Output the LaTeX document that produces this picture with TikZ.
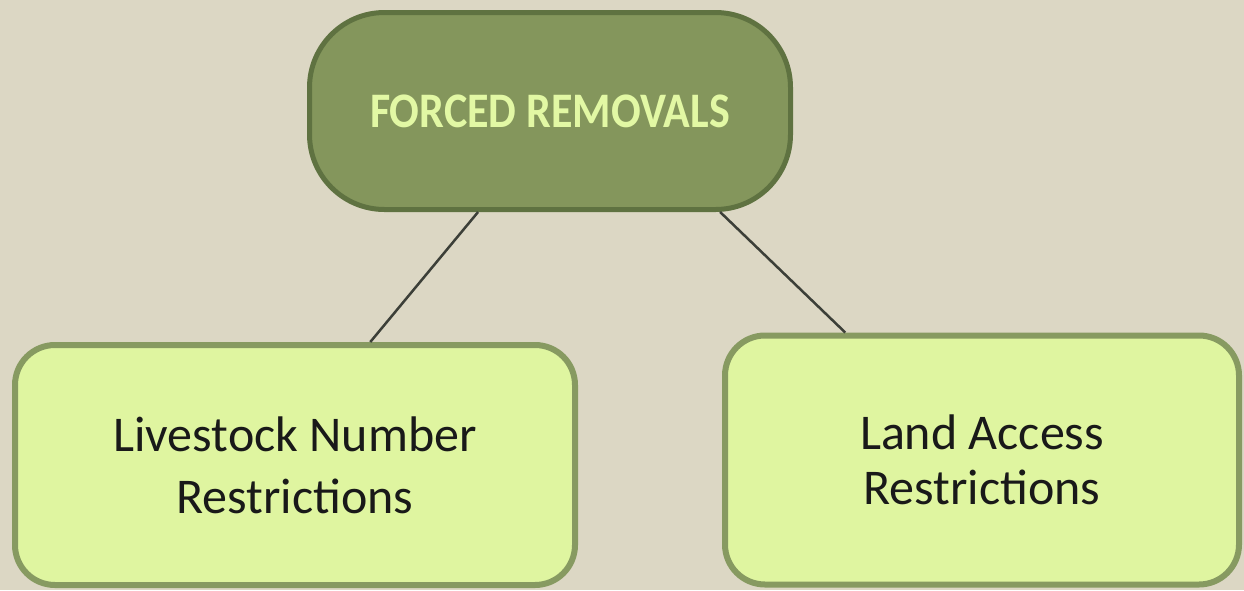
\documentclass[tikz,border=0pt]{standalone}
\usepackage{fontspec}
\setmainfont{Carlito}
\usetikzlibrary{calc}
\definecolor{bg}{HTML}{DCD7C4}
\definecolor{topfill}{HTML}{84965C}
\definecolor{topdraw}{HTML}{5F7241}
\definecolor{toptext}{HTML}{E2F8A4}
\definecolor{boxfill}{HTML}{DFF5A0}
\definecolor{boxdraw}{HTML}{879A61}
\definecolor{linkc}{HTML}{3C3F38}
\tikzset{
  headbox/.style={draw=topdraw, fill=topfill, line width=5pt, rounded corners=75pt,
    minimum width=481pt, minimum height=197pt, inner sep=0pt,
    font=\fontsize{44}{50}\selectfont\bfseries, text=toptext},
  subbox/.style={draw=boxdraw, fill=boxfill, line width=6pt, rounded corners=40pt,
    inner sep=0pt, align=center, text=black!90},
  link/.style={draw=linkc, line width=2.5pt}
}
\begin{document}
\begin{tikzpicture}[x=1pt,y=-1pt]
\fill[bg] (0,0) rectangle (1244,590);
\useasboundingbox (0,0) rectangle (1244,590);
\node[headbox] (top) at (550,111) {\scalebox{1}[1.13]{FORCED REMOVALS}};
\node[subbox, font=\fontsize{50}{62}\selectfont, minimum width=560pt, minimum height=240pt] (left) at (295,465) {Livestock Number\\Restrictions};
\node[subbox, font=\fontsize{50}{55}\selectfont, minimum width=514pt, minimum height=249pt] (right) at (982,460) {Land Access\\Restrictions};
\coordinate (tl) at ($(top.south west)!0.352!(top.south east)$);
\coordinate (tr) at ($(top.south west)!0.85!(top.south east)$);
\coordinate (lt) at ($(left.north west)!0.633!(left.north east)$);
\coordinate (rt) at ($(right.north west)!0.237!(right.north east)$);
\draw[link] (tl) -- (lt);
\draw[link] (tr) -- (rt);
\end{tikzpicture}
\end{document}
